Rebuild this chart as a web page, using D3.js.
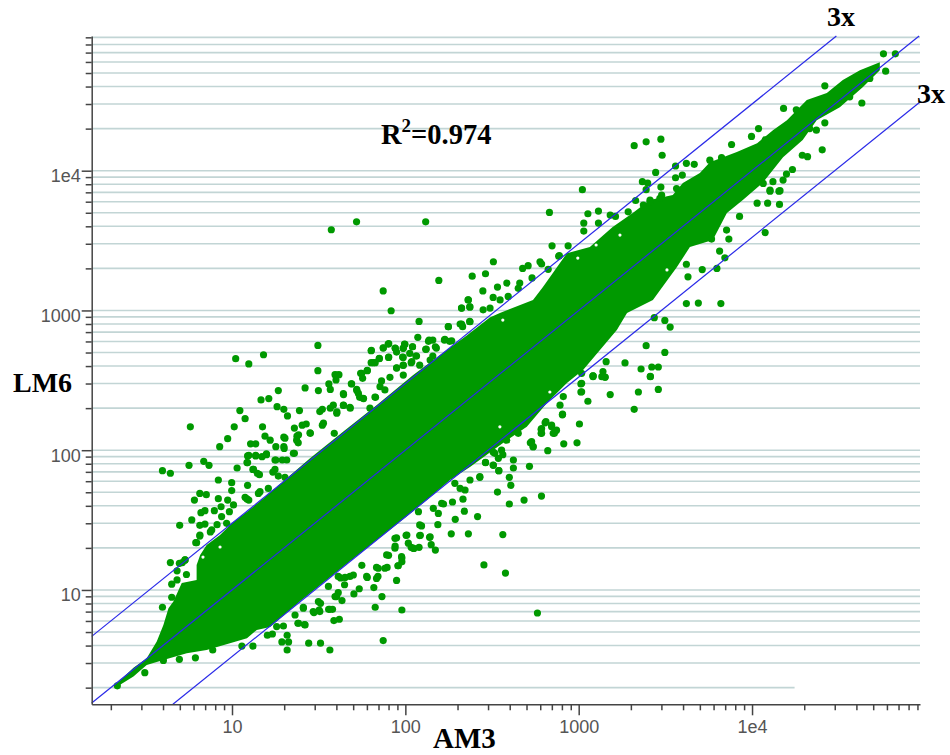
<!DOCTYPE html>
<html>
<head>
<meta charset="utf-8">
<title>AM3 vs LM6</title>
<script src="https://d3js.org/d3.v7.min.js"></script>
<style>
	html, body { margin: 0; padding: 0; background: #fff; }
	svg { display: block; }
	.tick text { font-family: "Liberation Sans", Arial, sans-serif; font-size: 18px; fill: #555; }
	.title { font-family: "Liberation Serif", "Times New Roman", serif; font-weight: bold; fill: #000; }
</style>
</head>
<body>
<div id="scatter"></div>
<script>

// labelled axis values
var majorValues = [10, 100, 1000, 10000];
var majorLabels = ["10", "100", "1000", "1e4"];

// fold change guides
var foldChanges = [1, 3, 1 / 3];

// the y = 2 grid line stops early in the original
var shortGridValue = 2;
var shortGridEnd = 17600;

// edges of the solid part of the cloud, [AM3, LM6]
var cloudUpper = [
	[2.12,2.09],[2.70,2.78],[3.22,3.24],[3.68,4.27],[4.02,5.62],[4.30,7.40],[4.59,8.26],[5.13,11.2],
	[6.25,11.8],[6.25,15.1],[6.55,17.8],[7.14,21.0],[8.53,24.7],[10.2,30.8],[12.2,36.3],[15.2,45.3],
	[20.7,63],[28.2,87.5],[43.9,136],[68.2,210],[111,345],[145,442],[225,660],[307,890],[351,958],
	[545,1190],[622,1470],[855,2570],[1160,2840],[1570,3950],[2050,4980],[2570,6170],[3490,6690],
	[3990,8150],[5000,9610],[5710,11500],[8170,13600],[10700,15700],[13200,19500],[15900,23000],
	[20700,32000],[27000,35900],[33400,44500],[41900,52400],[54600,59800]
];
var cloudLower = [
	[54600,52400],[43500,39600],[32100,28500],[23600,23000],[19600,16600],[15100,12500],[11500,8150],
	[8850,6170],[7160,4980],[5940,3190],[4380,2840],[3680,2040],[2680,1190],[1900,958],[1660,724],
	[1060,375],[855,303],[656,218],[502,147],[385,118],[320,100],[236,75.8],[181,61.2],[133,44],[100,33],
	[50,16.7],[25,8.4],[16.6,5.43],[13.9,5.18],[12.2,4.51],[9.73,4.16],[7.14,3.72],
	[5.48,3.52],[4.02,3.16],[3.22,2.91],[2.70,2.40],[2.18,2.04]
];

// small white gaps left inside the cloud
var cloudGaps = [
	[988,2370],[1260,2940],[1730,3460],[8.53,20.3],[6.8,17.2],[365,853],[682,261],[351,147],[3230,1950]
];

// single spots outside the solid part, [AM3, LM6]
var spots = [
	[37.4,3780],[52.3,4310],[131,4310],[156,1640],[243,1760],[74.5,1380],[230,1190],[211,1040],[235,1060],
	[82.8,995],[120,835],[235,835],[177,765],[207,800],[214,765],[118,642],[31.3,562],[15.2,482],[10.5,452],
	[12.5,414],[31.3,371],[39.3,347],[41.4,347],[63.5,515],[74.5,538],[79.6,575],[87.3,538],[89,504],
	[98.9,575],[97.2,538],[110,550],[136,601],[144,614],[168,614],[180,601],[131,527],[80,461],[70.7,452],
	[67,423],[63.5,423],[97.2,461],[60.3,371],[55.2,355],[89,387],[97.2,405],[108,423],[116,472],[144,472],
	[151,538],
	[2090,15100],[2450,16100],[2980,16800],[3030,12900],[3620,10800],[4180,11300],[4640,11100],[2780,9720],
	[3620,8900],[3960,9310],[2330,8340],[2500,8150],[2980,7640],[2450,7310],[1050,7310],[2130,6120],
	[678,5030],[1130,4920],[1300,5140],[1070,4220],[1300,4220],[1070,3700],[1520,4810],[1630,4710],
	[702,2900],[869,2900],[322,2230],[290,1830],[340,1470],[385,1570],[280,1380],[475,2000],[511,2090],
	[598,2230],[392,1260],[457,1570],[538,1710],[767,2440],
	[57300,68600],[67100,68600],[59000,51500],[43000,30500],[26300,40500],[15200,27900],[18000,27300],
	[25400,14100],[19500,12900],[20900,12600],[9930,17600],[10900,20000],[7620,15400],[17100,10200],
	[12700,7140],[14300,7140],[10700,5860],[12300,5860],[14400,5740],[11900,3610],[8470,4710],[5840,3240],
	[7350,3240],[6500,2660],[6970,2380],[6270,2000],[5160,1960],[4180,2140],[4180,1120],[4900,1130],
	[6610,1120],[2730,888],[3140,849],[3370,761],[2450,560],[3140,501],[1850,421],[2290,381],[2640,394],
	[2880,394],[2590,337],[1440,430],[1210,341],[1420,334],
	[5.75,147],[3.97,71.4],[4.41,68.4],[5.65,78],[6.87,83.2],[7.37,78],[8.49,106],[9.44,121],[10.3,147],
	[11.1,192],[11.9,168],[14.7,229],[16.3,234],[18.5,267],[18.2,205],[19.9,196],[20.9,176],[15,147],
	[15.5,126],[16.6,118],[12.8,111],[13.7,111],[17.9,106],[12.3,91],[13.7,91],[15.8,92.9],[12.3,81.5],
	[10.7,74.6],[8.34,61.2],[9.96,58.6],[9.96,51.4],[12.3,56.1],[6.52,49.1],[7.11,48.1],[6.07,44],[8.34,45],
	[9.44,44],[11.9,46],[12.5,44],[5.86,31.7],[4.99,29],[6.62,35.7],[6.98,36.9],[6.52,29],[6.98,29.6],
	[8.2,29.3],[7.91,36.9],[8.65,39.4],[7.5,26],[6.52,24.3],[6.18,21.8],[4.41,15.7],[5.17,15.7],[5.36,16.4],
	[4.82,13.7],[5.46,12.9],[4.49,11],[4.82,11.8],[4.49,8.87],[3.97,7.52],[26.4,279],[31.5,267],[36.9,272],
	[36.2,298],[44,250],[49,298],[52.5,267],[54.5,239],[57.4,234],[67.3,239],[24.5,192],[22.9,144],[25.4,151],
	[26.8,154],[28.3,132],[23.7,126],[24.1,113],[19.9,124],[19.9,106],[19.5,85.1],[22.9,95],[17.9,85.1],
	[33.2,196],[36.9,200],[44,209],[48.1,200],[40.3,188],[33.2,151],[38.9,132],[13.2,72.9],[14.4,66.8],
	[17.2,69.8],[20.2,64],[14.2,49.1],
	[74.5,4.34],[95.5,7.19],[67,7.52],[73.3,8.96],[89,11.7],[65.8,10.4],[60.3,12.3],[54.2,10.2],[50.5,9.36],
	[43.1,8.39],[40.1,8.96],[38,7.27],[36.1,7.27],[41.6,6.17],[38.7,6.04],[32.4,4.16],[27.7,4.16],[36.7,3.72],
	[20.8,3.72],[21.2,4.25],[19.4,4.25],[20.8,4.74],[26.2,5.65],[24,5.78],[29.7,6.89],[31.8,7.19],[32.4,8.03],
	[25.8,7.52],[90.6,14.9],[95.5,16.9],[95.5,15.9],[78.5,14.5],[68.2,14.5],[80,17.7],[108,20.2],[120,20.2],
	[112,19.8],[149,19.3],[141,21.1],[184,25.2],[231,25.2],[138,23.8],[194,32],[219,36.6],[215,44.6],[187,42.6],
	[154,29.3],[122,24.6],[162,41.7],[124,28.7],[87.3,20.6],[89,23.6],[101,24.6],[42.3,12.2],[47.9,12.5],
	[56.1,15],[69.5,12.5],[44.6,10.9],[16,4.74],[17.1,4.84],[13.2,3.97],[11.4,3.97],[7.74,3.72],[6.15,3.27],
	[4.97,3.19],[4.02,3.13],[3.14,2.56],[2.18,2.06],
	[2590,336],[2880,272],[2210,261],[2090,196],[1520,250],[1420,332],[1210,336],[1130,224],[1030,261],
	[1030,298],[1010,154],[978,113],[820,111],[805,179],[663,99.2],[724,132],[698,147],[607,132],[607,141],
	[640,157],[526,113],[546,106],[520,76.7],[420,85.1],[420,74.6],[398,64],[406,56.1],[340,50.2],[398,41.2],
	[484,44],[610,47],[346,71.4],[322,78],[290,81.5],[365,92.9],[321,97],[261,33.5],[365,24.9],[284,15.1],
	[378,13.2],[578,6.84],[269,64],
	// spots along the upper left edge
	[12.5,91.9],[13.7,91.9],[14.9,89.9],[15.8,94],[17.7,85.1],[20.7,85.1],[22.6,95],[12.2,81.5],[13.3,72.9],
	[14,68.4],[17.7,72.9],[18.5,65.3],[14.5,50.5],[16.2,53.3],[12.2,44.8],[10.2,40.6],[9.66,36.3],[8.71,33.5],
	[9.31,30],[7.64,26.9],[6.53,24.7],[6.25,21.8],[4.97,15.5],[5.36,16.4],[20.2,122],[20,103],[24.2,129],
	[23.6,118],[28.2,133],[33.7,156],[32.1,189],
	[74.6,541],[80.2,578],[87.5,536],[99.5,572],[110,550],[97.3,536],[132,530],[149,550],[169,621],[185,607],
	[137,614],[63.7,518],[80.2,464],[96.4,464],[106,493],[115,472],[70.8,454],[65.3,423],[89.1,389],[97.3,406],
	[109,430],[121,406],[139,442],[60.3,372],[56,355],[56.7,327],[40.2,345],[39.8,318],[81.5,332],[72.9,313],
	[71.4,285],[76.2,270],[97.3,345],[48.8,299],[52.4,272],[43.9,254],[53.6,255],[57.1,235],[66.8,240],[38.4,210],
	[43.9,210],[47.9,203],[40.2,184],[62.5,200],[211,1040],[231,1190],[236,1060],[281,1010],[308,1040],[321,1240],
	[352,1190],[177,765],[211,800],[236,830],
	[773,2470],[611,2150],[667,1970],[448,1440],[1930,5080],[2360,5680],[2580,6000],[3010,6680],
	// spots along the lower right edge
	[87.1,23.4],[102,24.7],[87.1,19.9],[78,17.8],[95.1,17.3],[76.2,14.3],[69.8,14.3],[68.2,12.1],[59.8,12.5],
	[50.1,12.8],[44.9,12.3],[41,12.5],[36,10.6],[41,9.57],[39.3,8.96],[31.5,8.26],[25.8,7.4],[29.4,7],[32.1,7],
	[36.7,7.27],[23.1,6.62],[24.2,5.78],[26.4,5.62],[19.8,5.52],[18.1,5.47],[121,29.2],[121,24.5],[139,24],
	[104,21.6],[111,19.9],[155,35.3],[145,38.4],[119,36.3],[166,41.2],[91,14.9],
	[1380,365],[1360,336],[1210,340],[1040,355],[1040,301],[1040,262],[815,242],[780,210],[807,181],[647,160],
	[698,151],[745,139],[713,132],[611,143],[611,132],[535,115],[546,106],[468,156],[448,132],[384,118],[359,100],
	[328,95],[344,87.5],[290,81.8],[321,78.3],[346,71.4],[269,64.7],[236,61.2],[193,57.9],[207,53.3],[221,51.9],
	[11900,16600],[6670,12400],[5710,11900],[3670,7460],[2940,6340],[2580,6170],
	[23500,19500],[21500,20000],[26300,22000],[15800,9460],[15100,8570],[13200,8340],[11600,8110],[12700,7260],
	[14500,7200],[7130,3760],[4270,1740],[36600,33800],[47800,45700]
];

// picture size
var chartwidth = 950,
	chartheight = 755;

// appends svg to div element
var svgscatter = d3.select("#scatter")
	.append("svg")
	.attr("width", chartwidth)
	.attr("height", chartheight);

// log scales of both arrays
var xscale = d3.scaleLog().domain([1.551, 93100]).range([91.7, 920]);
var yscale = d3.scaleLog().domain([1.52, 92000]).range([704.3, 36]);

var yticks = yscale.ticks().filter(function(d){

	return d <= 90000;
});
var xticks = xscale.ticks().filter(function(d){

	return d <= 90000;
});

// horizontal grid lines
svgscatter.append("g")
	.selectAll("line")
	.data(yticks)
	.enter()
	.append("line")
	.attr("x1", xscale.range()[0])
	.attr("x2", function(d){

		return d === shortGridValue ? xscale(shortGridEnd) : xscale.range()[1];
	})
	.attr("y1", function(d){ return yscale(d); })
	.attr("y2", function(d){ return yscale(d); })
	.attr("stroke", "#c2d5d5")
	.attr("stroke-width", 1.6);

// solid part of the cloud
var cloudline = d3.line()
	.x(function(d){ return xscale(d[0]); })
	.y(function(d){ return yscale(d[1]); });

svgscatter.append("path")
	.attr("d", cloudline(cloudUpper.concat(cloudLower)) + "Z")
	.attr("fill", "#009900");

// single spots
svgscatter.append("g")
	.selectAll("circle")
	.data(spots)
	.enter()
	.append("circle")
	.attr("cx", function(d){ return xscale(d[0]); })
	.attr("cy", function(d){ return yscale(d[1]); })
	.attr("r", 3.6)
	.attr("fill", "#009900");

svgscatter.append("g")
	.selectAll("circle")
	.data(cloudGaps)
	.enter()
	.append("circle")
	.attr("cx", function(d){ return xscale(d[0]); })
	.attr("cy", function(d){ return yscale(d[1]); })
	.attr("r", 1.6)
	.attr("fill", "#fff");

// diagonal and 3x guides, clipped to the plot box
var lowx = xscale.domain()[0],
	highx = xscale.domain()[1],
	lowy = yscale.domain()[0],
	highy = yscale.domain()[1];

svgscatter.append("g")
	.selectAll("line")
	.data(foldChanges)
	.enter()
	.append("line")
	.attr("x1", function(d){ return xscale(Math.max(lowx, lowy / d)); })
	.attr("y1", function(d){ return yscale(Math.max(lowx, lowy / d) * d); })
	.attr("x2", function(d){ return xscale(Math.min(highx, highy / d)); })
	.attr("y2", function(d){ return yscale(Math.min(highx, highy / d) * d); })
	.attr("stroke", "#2a2ae8")
	.attr("stroke-width", 1.2);

// axes, the labelled ticks get longer below
function tickLabel(d){

	var i = majorValues.indexOf(d);
	return i < 0 ? "" : majorLabels[i];
}

var yaxis = svgscatter.append("g")
	.attr("transform", "translate(" + xscale.range()[0] + ",0)")
	.call(d3.axisLeft(yscale).tickValues(yticks).tickSize(6).tickSizeOuter(0).tickFormat(tickLabel));

var xaxis = svgscatter.append("g")
	.attr("transform", "translate(0," + yscale.range()[0] + ")")
	.call(d3.axisBottom(xscale).tickValues(xticks).tickSize(6).tickSizeOuter(0).tickFormat(tickLabel));

yaxis.attr("font-family", null).attr("font-size", null);
xaxis.attr("font-family", null).attr("font-size", null);

yaxis.selectAll(".tick line")
	.attr("x2", function(d){ return majorValues.indexOf(d) < 0 ? -6 : -10; });
xaxis.selectAll(".tick line")
	.attr("y2", function(d){ return majorValues.indexOf(d) < 0 ? 6 : 11; });

yaxis.selectAll(".tick text")
	.attr("x", -11)
	.attr("dy", "0.6em");
xaxis.selectAll(".tick text")
	.attr("y", 15)
	.attr("dy", "0.75em");

svgscatter.selectAll(".domain, .tick line")
	.attr("stroke", "#444")
	.attr("stroke-width", 1.5);

// titles
svgscatter.append("text")
	.attr("class", "title")
	.attr("x", 13)
	.attr("y", 392)
	.attr("font-size", 28)
	.text("LM6");

svgscatter.append("text")
	.attr("class", "title")
	.attr("x", 433)
	.attr("y", 748)
	.attr("font-size", 29)
	.text("AM3");

svgscatter.append("text")
	.attr("class", "title")
	.attr("x", 827)
	.attr("y", 26)
	.attr("font-size", 28)
	.text("3x");

svgscatter.append("text")
	.attr("class", "title")
	.attr("x", 917)
	.attr("y", 103)
	.attr("font-size", 28)
	.text("3x");

var rsquared = svgscatter.append("text")
	.attr("class", "title")
	.attr("x", 381)
	.attr("y", 144)
	.attr("font-size", 28.5);

rsquared.append("tspan").text("R");
rsquared.append("tspan").attr("dy", -12).attr("font-size", 19).text("2");
rsquared.append("tspan").attr("dy", 12).text("=0.974");

</script>
</body>
</html>
